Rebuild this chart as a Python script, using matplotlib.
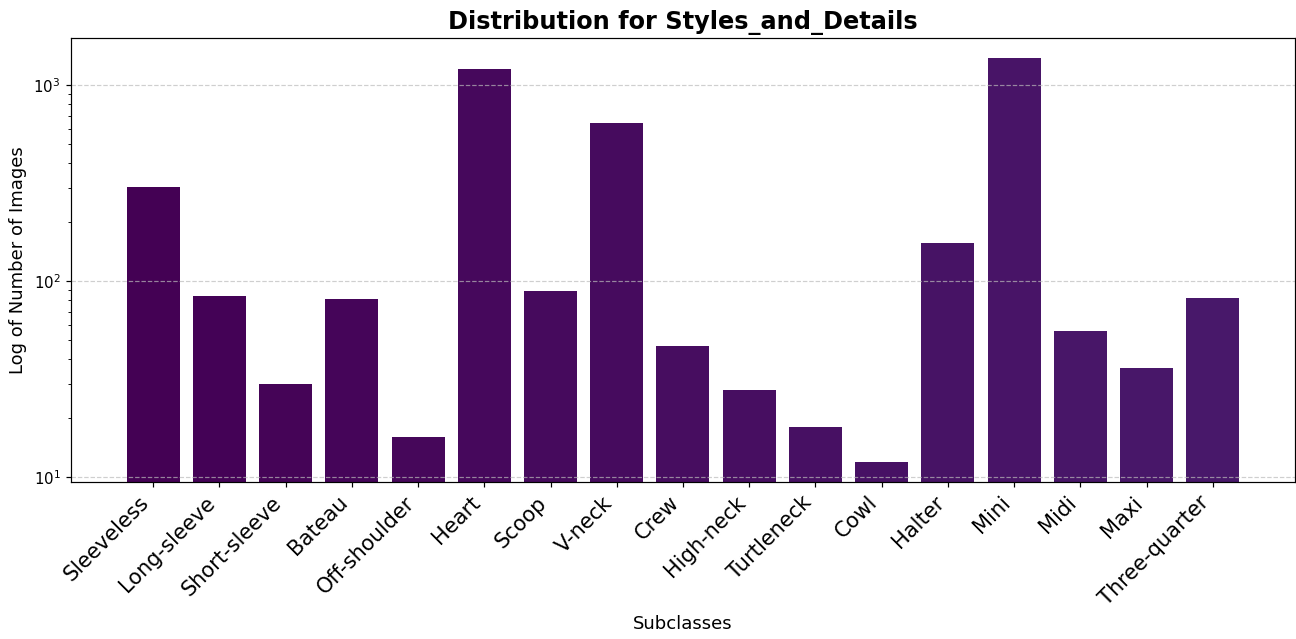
#!/usr/bin/env python3
import numpy as np
import matplotlib
matplotlib.use("Agg")
import matplotlib.pyplot as plt

category = "Styles_and_Details"
subclasses = ["Sleeveless", "Long-sleeve", "Short-sleeve", "Bateau", "Off-shoulder",
              "Heart", "Scoop", "V-neck", "Crew", "High-neck", "Turtleneck", "Cowl",
              "Halter", "Mini", "Midi", "Maxi", "Three-quarter"]
counts = [302, 84, 30, 81, 16, 1208, 89, 640, 47, 28, 18, 12, 156, 1374, 56, 36, 82]

fig = plt.figure(figsize=(12, 5.9167), dpi=108)
ax = fig.add_axes([0.0548, 0.2457, 0.9444, 0.6948])

colors = plt.cm.viridis(np.arange(len(counts)))
ax.bar(subclasses, counts, color=colors)
ax.set_yscale("log")

ax.set_title(f"Distribution for {category}", fontsize=16, fontweight="bold")
ax.set_xlabel("Subclasses", fontsize=12)
ax.set_ylabel("Log of Number of Images", fontsize=12)
plt.xticks(rotation=45, ha="right", fontsize=14)
ax.grid(axis="y", linestyle="--", alpha=0.7, color="#bbbbbb")

fig.savefig("out.png", dpi=108)
